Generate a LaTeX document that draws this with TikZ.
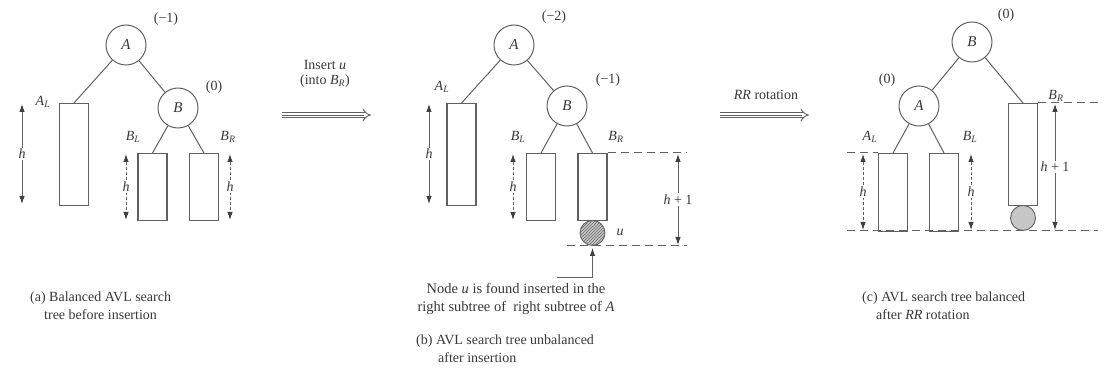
\documentclass[tikz,border=0pt]{standalone}
\usepackage{fontspec}
\setmainfont{Liberation Serif}
\usetikzlibrary{arrows.meta,patterns}
\definecolor{lc}{gray}{0.38}
\definecolor{tc}{gray}{0.22}
\newcommand{\sub}[2]{\textit{#1}\textsubscript{\textit{#2}}}
\begin{document}
\begin{tikzpicture}[x=1pt,y=-1pt,
  vtx/.style={circle, draw=lc, line width=1pt, minimum size=40pt, inner sep=0pt, text=tc, font=\itshape\fontsize{15}{15}\selectfont},
  box/.style={draw=lc, line width=1.1pt, minimum width=29pt, anchor=north, inner sep=0pt},
  edge/.style={draw=lc, line width=1pt},
  mytip/.tip={Latex[length=8pt,width=5.5pt,color=black!75]},
  harrow/.style={draw=lc, line width=0.9pt, mytip-mytip},
  dharrow/.style={harrow, dash pattern=on 3pt off 2pt},
  dline/.style={draw=lc, line width=1pt, dash pattern=on 8pt off 5pt},
  lbl/.style={text=tc, font=\fontsize{14}{16}\selectfont, inner sep=1pt},
  hl/.style={lbl, fill=white, inner sep=1.5pt, font=\itshape\fontsize{14}{16}\selectfont},
  captxt/.style={text=tc, font=\fontsize{14}{17}\selectfont, inner sep=0pt, anchor=west},
  bigarrow/.style={draw=lc, line width=0.9pt, double distance=3.6pt, -{Implies}},
  midline/.style={draw=lc, line width=0.8pt, shorten >=7pt},
  unode/.style={circle, draw=lc, line width=0.9pt, minimum size=25pt, inner sep=0pt, fill=gray!45},
]
\useasboundingbox (0,0) rectangle (1113,387);

% ---------- (a) ----------
\node[vtx] (aA) at (126,45) {A};
\node[lbl] (aAbal) at (166,19) {(−1)};
\node[vtx] (aB) at (178,108) {B};
\node[lbl] (aBbal) at (214,87) {(0)};
\node[box, minimum height=102pt] (aAL) at (74,103) {};
\node[lbl] (aALl) at (43,102) {\sub{A}{L}};
\node[box, minimum height=67pt] (aBL) at (152.5,153) {};
\node[box, minimum height=67pt] (aBR) at (204,153) {};
\node[lbl] (aBLl) at (133,137) {\sub{B}{L}};
\node[lbl] (aBRl) at (228,137) {\sub{B}{R}};
\draw[edge] (aA) -- (aAL.north);
\draw[edge] (aA) -- (aB);
\draw[edge] (aB) -- (aBL.north);
\draw[edge] (aB) -- (aBR.north);
\coordinate (ah1t) at (22,104); \coordinate (ah1b) at (22,204);
\draw[harrow] (ah1t) -- node[hl] (ah1l) {h} (ah1b);
\coordinate (ah2t) at (126,154); \coordinate (ah2b) at (126,220);
\draw[dharrow] (ah2t) -- node[hl] (ah2l) {h} (ah2b);
\coordinate (ah3t) at (230,154); \coordinate (ah3b) at (230,220);
\draw[dharrow] (ah3t) -- node[hl] (ah3l) {h} (ah3b);
\node[captxt] (capa1) at (30,298) {(a) Balanced AVL search};
\node[captxt] (capa2) at (44,315) {tree before insertion};

% ---------- arrow 1 ----------
\node[lbl, align=center, font=\fontsize{14}{15}\selectfont] (ins) at (325,74) {Insert \textit{u}\\(into \sub{B}{R})};
\coordinate (ar1s) at (282,115); \coordinate (ar1e) at (371,115);
\draw[bigarrow] (ar1s) -- (ar1e);
\draw[midline] (ar1s) -- (ar1e);

% ---------- (b) ----------
\node[vtx] (bA) at (514,45) {A};
\node[lbl] (bAbal) at (554,17) {(−2)};
\node[vtx] (bB) at (567,106) {B};
\node[lbl] (bBbal) at (608,80) {(−1)};
\node[box, minimum height=102pt] (bAL) at (461.5,103) {};
\node[lbl] (bALl) at (442,87) {\sub{A}{L}};
\node[box, minimum height=67pt] (bBL) at (541,153) {};
\node[box, minimum height=67pt] (bBR) at (592.5,153) {};
\node[lbl] (bBLl) at (518,137) {\sub{B}{L}};
\node[lbl] (bBRl) at (616,137) {\sub{B}{R}};
\node[unode, postaction={pattern=north east lines, pattern color=gray!85!black}, anchor=north] (bu) at (592.5,220) {};
\node[lbl, font=\itshape\fontsize{14}{16}\selectfont] (bul) at (620,232) {u};
\draw[edge] (bA) -- (bAL.north);
\draw[edge] (bA) -- (bB);
\draw[edge] (bB) -- (bBL.north);
\draw[edge] (bB) -- (bBR.north);
\coordinate (bh1t) at (429,104); \coordinate (bh1b) at (429,204);
\draw[harrow] (bh1t) -- node[hl] (bh1l) {h} (bh1b);
\coordinate (bh2t) at (513,154); \coordinate (bh2b) at (513,220);
\draw[dharrow] (bh2t) -- node[hl] (bh2l) {h} (bh2b);
\coordinate (btop) at (687,153);
\coordinate (bbotl) at (567,246); \coordinate (bbotr) at (687,246);
\draw[dline] (bBR.north east) -- (btop);
\draw[dline] (bbotl) -- (bbotr);
\coordinate (bh3t) at (678,154); \coordinate (bh3b) at (678,245);
\draw[harrow] (bh3t) -- node[hl, font=\fontsize{14}{16}\selectfont] (bh3l) {\textit{h} + 1} (bh3b);
\coordinate (bp0) at (557,277);
\draw[draw=lc, line width=1pt, -mytip, shorten >=2pt] (bp0) -| (bu.south);
\node[lbl, align=center, font=\fontsize{14.5}{18}\selectfont] (bnote) at (516,299) {Node \textit{u} is found inserted in the\\right subtree of\ \ right subtree of \textit{A}};
\node[captxt] (capb1) at (416,341) {(b) AVL search tree unbalanced};
\node[captxt] (capb2) at (438,358) {after insertion};

% ---------- arrow 2 ----------
\node[lbl] (rr) at (766,95) {\textit{RR} rotation};
\coordinate (ar2s) at (720,115); \coordinate (ar2e) at (809,115);
\draw[bigarrow] (ar2s) -- (ar2e);
\draw[midline] (ar2s) -- (ar2e);

% ---------- (c) ----------
\node[vtx] (cB) at (972,42) {B};
\node[lbl] (cBbal) at (1006,15) {(0)};
\node[vtx] (cA) at (919,106) {A};
\node[lbl] (cAbal) at (887,80) {(0)};
\node[box, minimum height=102pt] (cBR) at (1023,103) {};
\node[lbl] (cBRl) at (1056,96) {\sub{B}{R}};
\node[unode, anchor=north] (cu) at (1023,205) {};
\node[box, minimum height=78pt] (cAL) at (893,153) {};
\node[box, minimum height=78pt] (cBL) at (944,153) {};
\node[lbl] (cALl) at (870,137) {\sub{A}{L}};
\node[lbl] (cBLl) at (970,137) {\sub{B}{L}};
\draw[edge] (cB) -- (cA);
\draw[edge] (cB) -- (cBR.north);
\draw[edge] (cA) -- (cAL.north);
\draw[edge] (cA) -- (cBL.north);
\coordinate (ctop) at (1098,103);
\coordinate (cml) at (847,153);
\coordinate (cbl) at (847,231); \coordinate (cbr) at (1098,231);
\draw[dline] (cBR.north east) -- (ctop);
\draw[dline] (cml) -- (cAL.north west);
\draw[dline] (cbl) -- (cbr);
\coordinate (ch1t) at (863,154); \coordinate (ch1b) at (863,230);
\draw[dharrow] (ch1t) -- node[hl] (ch1l) {h} (ch1b);
\coordinate (ch2t) at (971,154); \coordinate (ch2b) at (971,230);
\draw[dharrow] (ch2t) -- node[hl] (ch2l) {h} (ch2b);
\coordinate (ch3t) at (1055,104); \coordinate (ch3b) at (1055,230);
\draw[harrow] (ch3t) -- node[hl, font=\fontsize{14}{16}\selectfont] (ch3l) {\textit{h} + 1} (ch3b);
\node[captxt] (capc1) at (862,298) {(c) AVL search tree balanced};
\node[captxt] (capc2) at (876,315) {after \textit{RR} rotation};
\end{tikzpicture}
\end{document}
